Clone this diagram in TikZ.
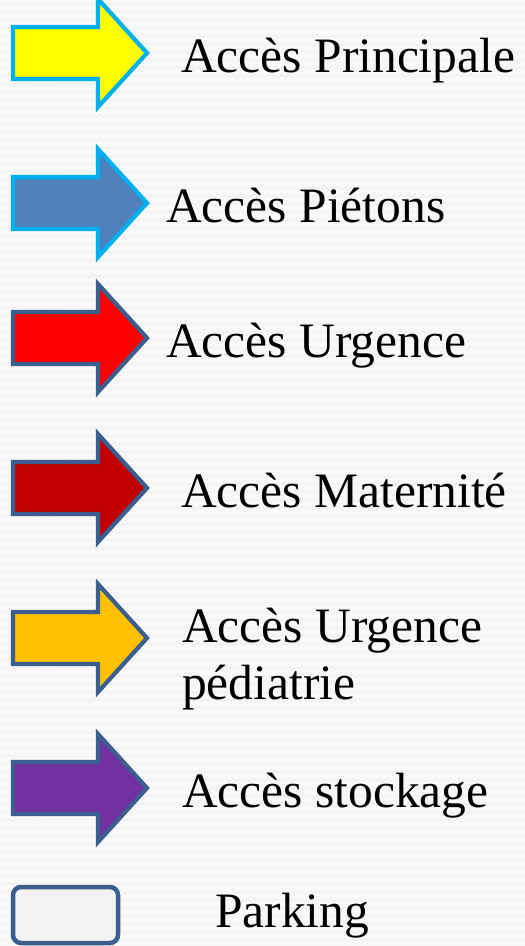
\documentclass[tikz,border=0pt]{standalone}
\usepackage{fontspec}
\setmainfont{Liberation Serif}
\usetikzlibrary{decorations.pathmorphing}
\definecolor{bgcol}{HTML}{F9F9F9}
\definecolor{wavecol}{HTML}{ECECEC}
\definecolor{lblue}{HTML}{00B0F0}
\definecolor{dblue}{HTML}{3A5F8F}
\definecolor{fblue}{HTML}{4F81BD}
\definecolor{fyellow}{HTML}{FFFF00}
\definecolor{fred}{HTML}{FF0000}
\definecolor{fdred}{HTML}{C00000}
\definecolor{forange}{HTML}{FFC000}
\definecolor{fpurple}{HTML}{7030A0}
\definecolor{fpark}{HTML}{F2F2F2}
\newcommand{\legarrow}[3]{%
  \draw[legarrowstyle, fill=#2, draw=#3]
    (13,#1-26) -- (98,#1-26) -- (98,#1-54) -- (147,#1) -- (98,#1+54)
    -- (98,#1+26) -- (13,#1+26) -- cycle;}
\tikzset{
  legarrowstyle/.style={line width=4.2pt, line join=miter},
  legtext/.style={anchor=base west, inner sep=0pt, font=\fontsize{49.5}{58}\selectfont, text=black},
  bgwave/.style={draw=wavecol, line width=0.7pt, decorate,
    decoration={snake, segment length=7pt, amplitude=1.4pt}},
}
\begin{document}
\begin{tikzpicture}[x=1pt, y=-1pt]
\useasboundingbox (0,0) rectangle (525,946);
\fill[bgcol] (0,0) rectangle (525,946);
\foreach \yy in {4,12,...,946} { \draw[bgwave] (0,\yy) -- (525,\yy); }
\begin{scope}
\clip (0,0) rectangle (525,946);
\legarrow{53}{fyellow}{lblue}
\end{scope}
\legarrow{203}{fblue}{lblue}
\legarrow{338}{fred}{dblue}
\legarrow{488}{fdred}{dblue}
\legarrow{638}{forange}{dblue}
\legarrow{788}{fpurple}{dblue}
\draw[dblue, line width=4.5pt, fill=fpark, rounded corners=8pt] (13,887) rectangle (118,943);
\node[legtext] (t1) at (181,72) {Accès Principale};
\node[legtext] (t2) at (166,222) {Accès Piétons};
\node[legtext] (t3) at (166,357) {Accès Urgence};
\node[legtext] (t4) at (181,507) {Accès Maternité};
\node[legtext] (t5) at (182,642) {Accès Urgence};
\node[legtext] (t5b) at (182,699) {pédiatrie};
\node[legtext] (t6) at (182,807) {Accès stockage};
\node[legtext] (t7) at (215,927) {Parking};
\end{tikzpicture}
\end{document}
